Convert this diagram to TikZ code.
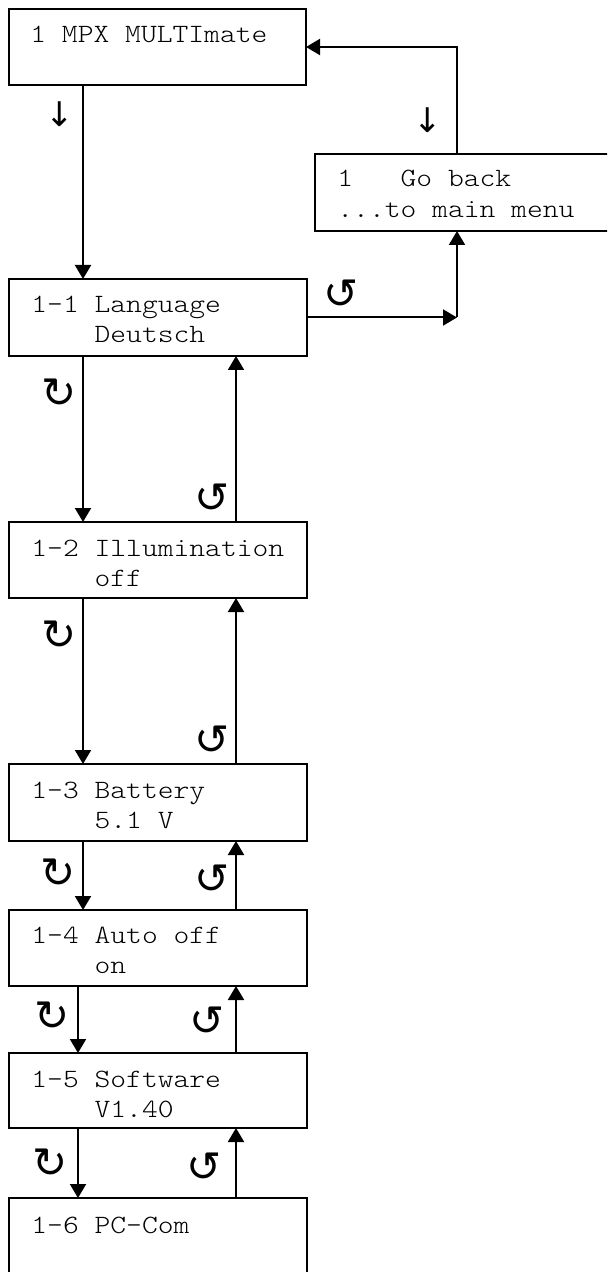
\documentclass[tikz,border=0pt]{standalone}
\usepackage{fontspec}
\setmonofont[FakeStretch=1.14]{lmmonolt10-regular.otf}
\newfontfamily\symfont{DejaVu Sans}
\usetikzlibrary{arrows.meta}
\begin{document}
\begin{tikzpicture}[x=0.5pt,y=-0.5pt,
 box/.style={draw, line width=1pt, inner sep=0pt, outer sep=0pt, minimum width=149pt, minimum height=38pt},
 txt/.style={anchor=base west, inner sep=0pt, font=\ttfamily\fontsize{13.2pt}{15pt}\selectfont},
 arr/.style={line width=1pt, -{Triangle[length=7pt,width=8pt]}},
 sym/.style={inner sep=0pt, font=\symfont\fontsize{21pt}{21pt}\selectfont}]
\useasboundingbox (0,0) rectangle (607,1272);
\clip (0,0) rectangle (607,1272);
% x positions of the vertical connectors
\coordinate (xa) at (83,0);
\coordinate (xb) at (78,0);
\coordinate (xu) at (236,0);
\coordinate (xr) at (457,0);
% boxes
\node[box, minimum width=148.5pt] (m) at (157.5,47) {};
\node[box, minimum width=150pt, minimum height=38.5pt] (g) at (465,192.5) {};
\node[box, minimum height=38.5pt] (b1) at (158,317.5) {};
\node[box] (b2) at (158,560) {};
\node[box, minimum height=38.5pt] (b3) at (158,802.5) {};
\node[box] (b4) at (158,948) {};
\node[box, minimum height=37.5pt] (b5) at (158,1090.5) {};
\node[box] (b6) at (158,1236) {};
% texts
\node[txt] (tm) at (30,43) {1 MPX MULTImate};
\node[txt] (tg1) at (337,187) {1\hphantom{xxx}Go back};
\node[txt] (tg2) at (337,218) {...to main menu};
\node[txt] (t1a) at (31,313) {1-1 Language};
\node[txt] (t1b) at (31,343) {\hphantom{1-1 }Deutsch};
\node[txt] (t2a) at (31,556) {1-2 Illumination};
\node[txt] (t2b) at (31,586) {\hphantom{1-2 }off};
\node[txt] (t3a) at (31,798) {1-3 Battery};
\node[txt] (t3b) at (31,828) {\hphantom{1-3 }5.1 V};
\node[txt] (t4a) at (31,943) {1-4 Auto off};
\node[txt] (t4b) at (31,973) {\hphantom{1-4 }on};
\node[txt] (t5a) at (31,1087) {1-5 Software};
\node[txt] (t5b) at (31,1117) {\hphantom{1-5 }V1.40};
\node[txt] (t6a) at (31,1233) {1-6 PC-Com};
% connectors
\draw[arr] (m.south -| xa) -- (b1.north -| xa);
\draw[arr] (g.north -| xr) |- (m.east);
\coordinate (J) at (b1.east -| xr);
\draw[arr] (b1.east) -- (J);
\draw[arr] (J) -- (g.south -| J);
\draw[arr] (b1.south -| xa) -- (b2.north -| xa);
\draw[arr] (b2.south -| xa) -- (b3.north -| xa);
\draw[arr] (b3.south -| xa) -- (b4.north -| xa);
\draw[arr] (b4.south -| xb) -- (b5.north -| xb);
\draw[arr] (b5.south -| xb) -- (b6.north -| xb);
\draw[arr] (b2.north -| xu) -- (b1.south -| xu);
\draw[arr] (b3.north -| xu) -- (b2.south -| xu);
\draw[arr] (b4.north -| xu) -- (b3.south -| xu);
\draw[arr] (b5.north -| xu) -- (b4.south -| xu);
\draw[arr] (b6.north -| xu) -- (b5.south -| xu);
% symbols
\node[sym, font=\symfont\fontsize{17pt}{17pt}\selectfont] (s1) at (60,114) {↓};
\node[sym, font=\symfont\fontsize{17pt}{17pt}\selectfont] (s2) at (428,120) {↓};
\node[sym] (s3) at (341,294) {↺};
\node[sym] (s4) at (59,393) {↻};
\node[sym] (s5) at (212,498) {↺};
\node[sym] (s6) at (59,635) {↻};
\node[sym] (s7) at (212,740) {↺};
\node[sym] (s8) at (58,873) {↻};
\node[sym] (s9) at (212,879) {↺};
\node[sym] (s10) at (52,1016) {↻};
\node[sym] (s11) at (207,1021) {↺};
\node[sym] (s12) at (50,1163) {↻};
\node[sym] (s13) at (204,1167) {↺};
\end{tikzpicture}
\end{document}
